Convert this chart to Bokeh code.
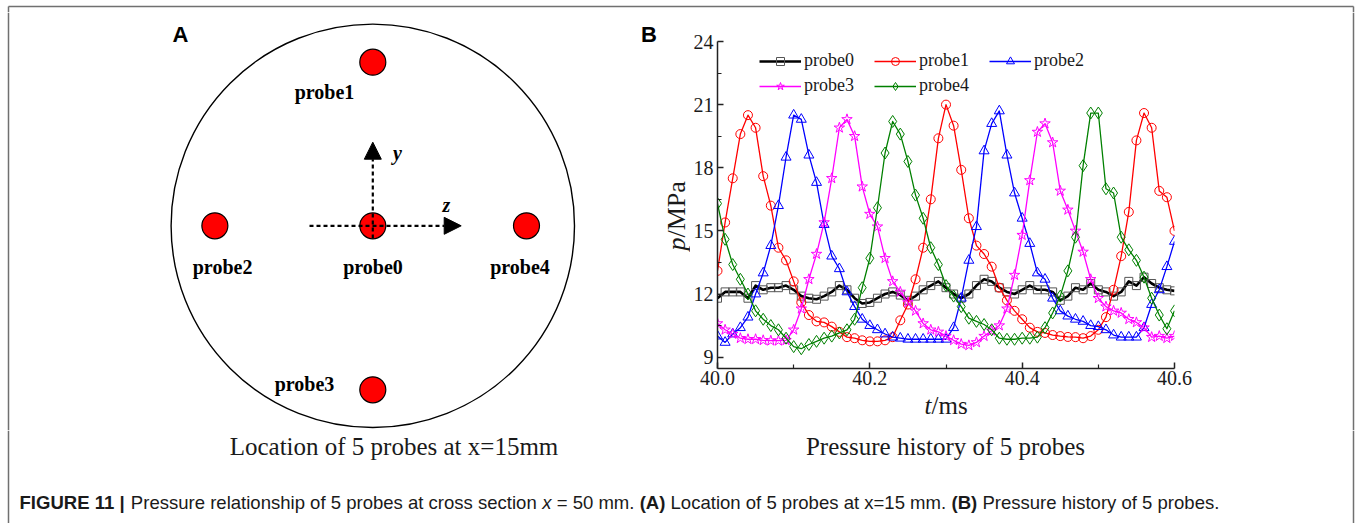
from math import pi
from bokeh.plotting import figure
from bokeh.layouts import column, row
from bokeh.models import (Range1d, Legend, LegendItem, Arrow, NormalHead,
                          FixedTicker, PrintfTickFormatter)
from bokeh.core.properties import value
from bokeh.embed import file_html
from bokeh.resources import INLINE

# ---------------- Panel B data (pressure history, MPa) ----------------
t_ms = [40.00, 40.01, 40.02, 40.03, 40.04, 40.05, 40.06, 40.07, 40.08, 40.09,
        40.10, 40.11, 40.12, 40.13, 40.14, 40.15, 40.16, 40.17, 40.18, 40.19,
        40.20, 40.21, 40.22, 40.23, 40.24, 40.25, 40.26, 40.27, 40.28, 40.29,
        40.30, 40.31, 40.32, 40.33, 40.34, 40.35, 40.36, 40.37, 40.38, 40.39,
        40.40, 40.41, 40.42, 40.43, 40.44, 40.45, 40.46, 40.47, 40.48, 40.49,
        40.50, 40.51, 40.52, 40.53, 40.54, 40.55, 40.56, 40.57, 40.58, 40.59,
        40.60]

probe0 = [11.8, 12.1, 12.1, 12.1, 11.8, 12.4, 12.2, 12.3, 12.3, 12.4,
          12.2, 11.9, 11.8, 11.75, 11.9, 12.1, 12.4, 12.2, 11.8, 11.55,
          11.6, 11.8, 12.0, 12.1, 11.95, 11.7, 11.9, 12.2, 12.4, 12.6,
          12.3, 12.0, 11.8, 12.0, 12.4, 12.7, 12.6, 12.3, 12.1, 12.0,
          12.2, 12.4, 12.2, 12.2, 12.1, 11.7, 11.9, 12.3, 12.2, 12.5,
          12.2, 12.1, 11.9, 12.1, 12.6, 12.4, 12.8, 12.5, 12.3, 12.2,
          12.15]

probe1 = [13.1, 15.4, 17.5, 19.6, 20.5, 19.9, 17.6, 16.2, 14.2, 13.6,
          12.6, 11.6, 11.0, 10.7, 10.65, 10.45, 10.2, 9.95, 9.9, 9.8,
          9.75, 9.75, 9.8, 9.95, 10.75, 11.5, 12.7, 14.2, 16.5, 19.4,
          21.0, 20.0, 17.9, 15.6, 14.3, 13.9, 13.3, 12.3, 11.7, 11.2,
          10.8, 10.4, 10.2, 10.15, 10.05, 10.0, 9.96, 9.95, 9.9, 10.0,
          10.3, 10.9, 12.2, 13.8, 15.9, 19.3, 20.6, 19.9, 16.9, 16.6,
          15.0]

probe2 = [10.0, 9.7, 10.1, 10.4, 10.9, 12.0, 13.0, 14.3, 16.2, 18.5,
          20.5, 20.3, 18.6, 17.3, 15.3, 13.8, 13.2, 12.1, 11.4, 10.8,
          10.5, 10.3, 10.1, 9.95, 9.9, 9.85, 9.85, 9.85, 9.85, 9.85,
          9.85, 10.4, 11.8, 13.6, 15.2, 18.8, 20.1, 20.7, 18.6, 16.8,
          15.6, 14.4, 13.0, 12.7, 11.8, 11.2, 10.95, 10.8, 10.7, 10.5,
          10.45, 10.3, 10.05, 9.95, 9.95, 9.95, 10.4, 11.5, 12.2, 13.3,
          14.5]

probe3 = [10.6, 10.3, 10.1, 9.9, 9.85, 9.85, 9.8, 9.78, 9.78, 9.8,
          10.3, 11.3, 12.7, 13.9, 15.4, 17.5, 19.9, 20.3, 19.5, 17.1,
          15.8, 15.2, 13.7, 12.6, 12.1, 11.6, 11.2, 10.6, 10.3, 10.2,
          10.0, 9.8, 9.62, 9.56, 9.7, 10.0, 10.25, 10.5, 11.3, 12.9,
          14.8, 17.4, 19.7, 20.1, 19.2, 16.9, 16.0, 15.0, 14.0, 12.7,
          11.8, 11.4, 11.2, 11.1, 10.8, 10.65, 10.4, 9.95, 10.0, 9.9,
          10.0]

probe4 = [16.3, 14.6, 13.4, 12.7, 12.0, 11.2, 10.8, 10.5, 10.3, 9.9,
          9.5, 9.4, 9.6, 9.75, 9.9, 10.0, 10.15, 10.3, 10.8, 12.3,
          13.7, 16.1, 18.7, 20.2, 19.6, 18.3, 16.7, 15.6, 14.2, 13.4,
          12.4, 11.9, 11.4, 10.85, 10.7, 10.55, 10.3, 9.9, 9.85, 9.85,
          9.9, 9.9, 9.95, 10.4, 11.1, 11.9, 13.1, 14.7, 18.1, 20.6,
          20.6, 17.0, 16.8, 14.7, 14.1, 13.6, 12.8, 11.8, 11.0, 10.35,
          11.2]

x_ticks = [40.0, 40.2, 40.4, 40.6]
x_minor = [40.1, 40.3, 40.5]
y_ticks = [9, 12, 15, 18, 21, 24]
y_minor = [10.5, 13.5, 16.5, 19.5, 22.5]

# ---------------- Panel A data (probe layout, in units of pipe radius) ----------------
probe_names = ["probe0", "probe1", "probe2", "probe3", "probe4"]
probe_z = [0.0, 0.0, -0.783, 0.0, 0.762]
probe_y = [0.0, 0.811, 0.0, -0.813, 0.0]

SERIF = "Liberation Serif"
SANS = "Liberation Sans"
TXT = "#1a1a1a"
BORDER = "#707070"

# page geometry
PAGE_W, PAGE_H = 1361, 523
ROW_TOP, ROW_BOT = 12, 430        # middle band
B_BOT = 392                       # bottom of panel-B plot canvas
A_W = 690
B_X1 = 1210
R_PX, CX, CY = 201.7, 372.3, 225.3       # pipe circle on the page (px)


def diag_ranges(x0, x1, y0, y1):
    """Diagram-unit ranges for a page box (px), y pointing up in diagram units."""
    return (Range1d((x0 - CX) / R_PX, (x1 - CX) / R_PX),
            Range1d((CY - y1) / R_PX, (CY - y0) / R_PX))


def a_xy(px, py):
    return (px - CX) / R_PX, (CY - py) / R_PX


def plain_fig(w, h, xr, yr):
    f = figure(width=w, height=h, x_range=xr, y_range=yr, x_axis_type=None,
               y_axis_type=None, output_backend="svg", toolbar_location=None,
               min_border=0, frame_align=False)
    f.outline_line_color = None
    return f


lab_off = [(0.2, 40.7), (-48.3, 29.3), (7.7, 40.7), (-68.3, -5.3), (-6.5, 40.7)]

# ---------------- Panel A figure ----------------
xrA, yrA = diag_ranges(0, A_W, ROW_TOP, ROW_BOT)
pA = plain_fig(A_W, ROW_BOT - ROW_TOP, xrA, yrA)
pA.circle(x=[0], y=[0], radius=1.0, fill_color=None, line_color="black", line_width=1.4)
pA.scatter(x=probe_z, y=probe_y, size=26, marker="circle",
           fill_color="#ff0000", line_color="black", line_width=1.2)

lx = [zz + dx / R_PX for zz, (dx, dy) in zip(probe_z, lab_off)]
ly = [yy - dy / R_PX for yy, (dx, dy) in zip(probe_y, lab_off)]
pA.text(x=lx, y=ly, text=probe_names, text_font=value(SERIF),
        text_font_size=value("20px"), text_font_style=value("bold"),
        text_align="center", text_baseline="middle", text_color="black")

vx0, vy0 = a_xy(372.3, 238)
vx1, vy1 = a_xy(372.3, 141.7)
hx0, hy0 = a_xy(309, 225.3)
hx1, hy1 = a_xy(460.7, 225.3)
for xs, ys, xe, ye in [(vx0, vy0, vx1, vy1), (hx0, hy0, hx1, hy1)]:
    pA.add_layout(Arrow(x_start=xs, y_start=ys, x_end=xe, y_end=ye,
                        line_dash="4 3", line_width=2.2, line_color="black",
                        end=NormalHead(size=17, fill_color="black", line_color="black",
                                       line_width=1)))

ax_lab_x, ax_lab_y = zip(a_xy(397, 152), a_xy(446, 204))
pA.text(x=list(ax_lab_x), y=list(ax_lab_y), text=["y", "z"], text_font=value(SERIF),
        text_font_size=value("20px"), text_font_style=value("bold italic"),
        text_align="center", text_baseline="middle", text_color="black")

pan_x, pan_y = zip(a_xy(180, 34), a_xy(648.5, 34))
pA.text(x=list(pan_x), y=list(pan_y), text=["A", "B"], text_font=value(SANS),
        text_font_size=value("22px"), text_font_style=value("bold"),
        text_align="center", text_baseline="middle", text_color="black")

# y-axis title of panel B ("p" italic + "/MPa"), rotated
py_x, py_y = zip(a_xy(676, 250), a_xy(676, 237))
pA.text(x=[py_x[0]], y=[py_y[0]], text=["p"], angle=pi / 2, text_font=value(SERIF),
        text_font_size=value("26px"), text_font_style=value("italic"),
        text_align="left", text_baseline="middle", text_color=TXT)
pA.text(x=[py_x[1]], y=[py_y[1]], text=["/MPa"], angle=pi / 2, text_font=value(SERIF),
        text_font_size=value("26px"), text_align="left", text_baseline="middle",
        text_color=TXT)

bx0, by0 = a_xy(8, ROW_TOP)
bx1, by1 = a_xy(8, ROW_BOT)
pA.segment(x0=[bx0], y0=[by0], x1=[bx1], y1=[by1], line_color=BORDER, line_width=1.5)

# ---------------- Panel B figure ----------------
pB = figure(width=B_X1 - A_W, height=B_BOT - ROW_TOP,
            x_range=Range1d(40.0, 40.6), y_range=Range1d(8.46, 24.0),
            output_backend="svg", toolbar_location=None, frame_align=False,
            min_border_left=24, min_border_right=36,
            min_border_top=29, min_border_bottom=24)
pB.outline_line_color = None
pB.xgrid.visible = False
pB.ygrid.visible = False

pB.xaxis.ticker = FixedTicker(ticks=x_ticks, minor_ticks=x_minor)
pB.xaxis.formatter = PrintfTickFormatter(format="%.1f")
pB.yaxis.ticker = FixedTicker(ticks=y_ticks, minor_ticks=y_minor)
for ax in (pB.xaxis[0], pB.yaxis[0]):
    ax.axis_line_width = 1.5
    ax.axis_line_color = "#222222"
    ax.major_tick_in = 6
    ax.major_tick_out = 0
    ax.minor_tick_in = 4
    ax.minor_tick_out = 0
    ax.major_tick_line_width = 1.5
    ax.minor_tick_line_width = 1.2
    ax.major_tick_line_color = "#222222"
    ax.minor_tick_line_color = "#222222"
    ax.major_label_text_font = SERIF
    ax.major_label_text_color = TXT
    ax.major_label_text_font_size = "20px"
pB.xaxis.major_label_standoff = 2
pB.yaxis.major_label_standoff = 4

series = [
    ("probe0", probe0, dict(color="black", marker="square", lw=2.6, mc="#555555", ms=8)),
    ("probe1", probe1, dict(color="#ff0000", marker="circle", lw=1.3, mc="#ff0000", ms=9)),
    ("probe2", probe2, dict(color="#0000ff", marker="triangle", lw=1.3, mc="#0000ff", ms=10)),
    ("probe3", probe3, dict(color="#ff00ff", marker="star", lw=1.3, mc="#ff00ff", ms=11)),
    ("probe4", probe4, dict(color="#008000", marker="diamond", lw=1.3, mc="#008000", ms=12)),
]
items = []
for name, vals, st in series:
    lr = pB.line(x=t_ms, y=vals, line_color=st["color"], line_width=st["lw"],
                 line_join="round")
    sr = pB.scatter(x=t_ms, y=vals, marker=st["marker"], size=st["ms"],
                    fill_color=None, line_color=st["mc"], line_width=1.0)
    items.append(LegendItem(label=name, renderers=[lr, sr]))

legend = Legend(items=items, orientation="horizontal", ncols=3,
                location=(42, 272), padding=0, margin=0, spacing=4,
                glyph_width=42, glyph_height=20, label_standoff=3,
                label_width=66, label_height=20,
                label_text_font=SERIF, label_text_font_size="18px",
                label_text_color=TXT,
                border_line_color=None, background_fill_alpha=0)
pB.add_layout(legend)

# strip under panel B holding its x-axis title ("t" italic + "/ms")
pBx = plain_fig(B_X1 - A_W, ROW_BOT - B_BOT, Range1d(A_W, B_X1), Range1d(ROW_BOT, B_BOT))
pBx.text(x=[924], y=[405], text=["t"], text_font=value(SERIF), text_font_size=value("25px"),
         text_font_style=value("italic"), text_align="left", text_baseline="middle",
         text_color=TXT)
pBx.text(x=[931], y=[405], text=["/ms"], text_font=value(SERIF), text_font_size=value("25px"),
         text_align="left", text_baseline="middle", text_color=TXT)

# ---------------- right border strip ----------------
pR = plain_fig(PAGE_W - B_X1, ROW_BOT - ROW_TOP, Range1d(B_X1, PAGE_W), Range1d(ROW_BOT, ROW_TOP))
pR.segment(x0=[1353], y0=[ROW_TOP], x1=[1353], y1=[ROW_BOT], line_color=BORDER, line_width=1.5)

# ---------------- top border strip ----------------
pT = plain_fig(PAGE_W, ROW_TOP, Range1d(0, PAGE_W), Range1d(ROW_TOP, 0))
pT.segment(x0=[8, 8, 1353], y0=[6, 6, 6], x1=[1353, 8, 1353], y1=[6, ROW_TOP, ROW_TOP],
           line_color=BORDER, line_width=1.5)

# ---------------- bottom strip ----------------
pC = plain_fig(PAGE_W, PAGE_H - ROW_BOT, Range1d(0, PAGE_W), Range1d(PAGE_H, ROW_BOT))
pC.segment(x0=[8, 1353], y0=[ROW_BOT, ROW_BOT], x1=[8, 1353], y1=[PAGE_H, PAGE_H],
           line_color=BORDER, line_width=1.5)

pC.text(x=[393.5, 945], y=[446, 446],
        text=["Location of 5 probes at x=15mm", "Pressure history of 5 probes"],
        text_font=value(SERIF), text_font_size=value("25px"),
        text_align="center", text_baseline="middle", text_color=TXT)

# caption laid out with Arial/Liberation Sans advance widths
REG = dict(zip("abcdefghijklmnopqrstuvwxyz",
               [556, 556, 500, 556, 556, 278, 556, 556, 222, 222, 500, 222, 833,
                556, 556, 556, 556, 333, 500, 278, 556, 500, 722, 500, 500, 500]))
REG.update({" ": 278, "|": 260, ".": 278, "=": 584, "(": 333, ")": 333,
            "A": 667, "B": 667, "F": 611, "G": 778, "I": 278, "L": 556, "P": 667,
            "R": 722, "E": 667, "U": 722})
REG.update({d: 556 for d in "0123456789"})
BOLD = dict(REG)
BOLD.update({"|": 280, "A": 722, "B": 722})
CAP_FS = 18.55


def tw(s, style):
    tab = BOLD if "bold" in style else REG
    return sum(tab.get(ch, 556) for ch in s) / 1000.0 * CAP_FS


cap_parts = [("FIGURE 11 |", "bold"),
             (" Pressure relationship of 5 probes at cross section ", "normal"),
             ("x", "italic"),
             (" = 50 mm. ", "normal"),
             ("(A)", "bold"),
             (" Location of 5 probes at x=15 mm. ", "normal"),
             ("(B)", "bold"),
             (" Pressure history of 5 probes.", "normal")]
cx = 19.0
for s, style in cap_parts:
    lead = len(s) - len(s.lstrip())
    pC.text(x=[cx + tw(s[:lead], style)], y=[502], text=[s.strip()],
            text_font=value(SANS), text_font_size=value(f"{CAP_FS}px"),
            text_font_style=value(style), text_align="left",
            text_baseline="middle", text_color=TXT)
    cx += tw(s, style)

layout = column(pT, row(pA, column(pB, pBx), pR), pC)
open("out.html", "w").write(file_html(layout, INLINE))
